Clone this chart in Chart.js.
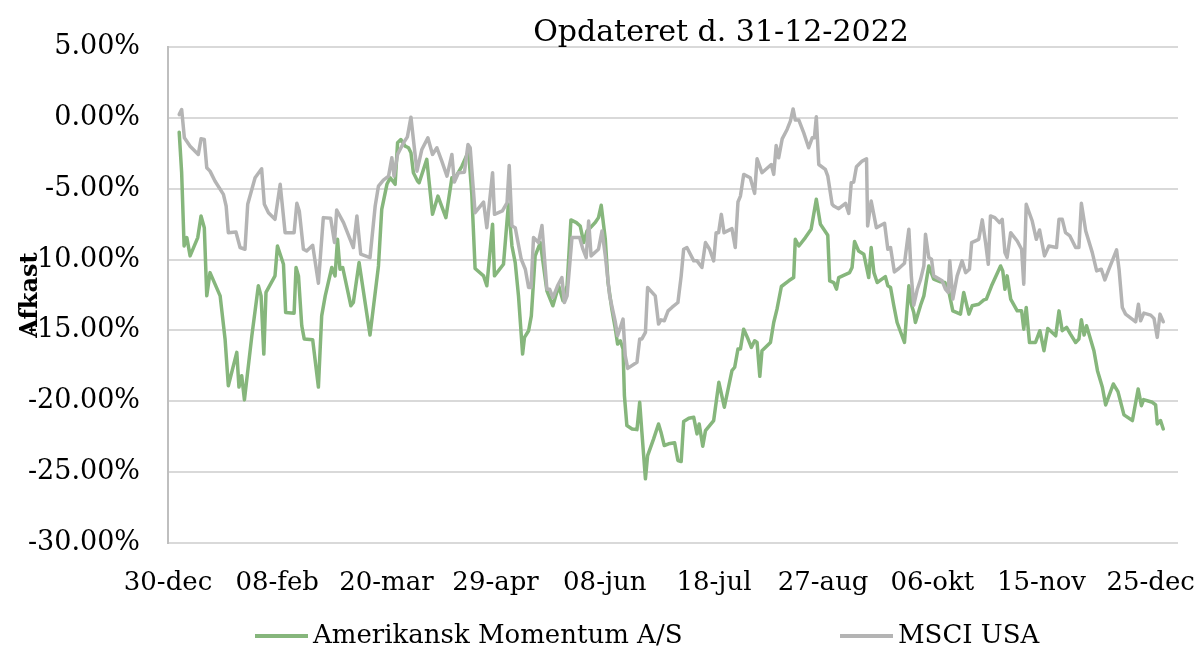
<!DOCTYPE html>
<html>
<head>
<meta charset="utf-8">
<script src="https://cdn.jsdelivr.net/npm/chart.js@4/dist/chart.umd.min.js"></script>
<style>
  html, body { margin: 0; padding: 0; background: #fff; }
  #wrap { width: 1198px; height: 649px; }
</style>
</head>
<body>
<div id="wrap"><canvas id="chart" width="1198" height="649"></canvas></div>
<script>
// days counted from 30-dec-2021
const tickDays = [0, 40, 80, 120, 160, 200, 240, 280, 320, 360]
const tickLabels = ['30-dec', '08-feb', '20-mar', '29-apr', '08-jun', '18-jul', '27-aug', '06-okt', '15-nov', '25-dec']

const momentumDays = [
  4.1, 5.0, 5.9, 6.9, 8.1, 10.9, 12.1, 13.3, 14.2, 15.4, 19.1, 20.9, 22.1, 25.2, 26.0, 27.0, 28.0, 30.7, 33.1, 34.1,
  35.1, 35.9, 39.2, 40.1, 42.3, 43.1, 46.2, 46.9, 47.8, 49.0, 49.9, 53.0, 55.1, 56.3, 57.6, 60.0, 61.2, 62.1, 63.0, 64.0,
  67.0, 67.9, 70.0, 74.0, 77.1, 78.3, 80.2, 81.4, 83.2, 84.1, 85.3, 86.9, 88.1, 89.0, 89.9, 91.4, 92.0, 94.8, 96.9, 98.9,
  101.8, 104.0, 105.2, 107.7, 110.1, 111.3, 112.5, 115.6, 116.8, 118.9, 119.6, 122.9, 124.7, 126.0, 127.2, 128.4, 129.9, 130.6, 132.1, 133.1,
  134.5, 136.4, 138.8, 141.0, 143.1, 144.7, 146.2, 147.6, 149.6, 151.0, 152.3, 153.5, 154.7, 156.5, 157.7, 158.7, 160.2, 161.2, 162.6, 163.9,
  164.7, 165.7, 166.7, 167.2, 168.1, 170.0, 171.8, 172.8, 173.6, 174.9, 175.7, 177.9, 179.7, 180.6, 181.8, 183.4, 185.6, 186.8, 188.0, 188.9,
  190.8, 192.6, 193.8, 194.6, 195.9, 196.9, 199.9, 201.8, 203.8, 206.6, 207.6, 208.8, 209.7, 210.9, 212.5, 213.7, 214.9, 215.8, 216.8, 217.6,
  220.7, 221.9, 223.1, 224.7, 227.4, 229.2, 229.8, 231.1, 233.5, 235.6, 237.5, 239.0, 241.7, 242.4, 243.9, 244.9, 245.7, 249.7, 250.6, 251.5,
  253.0, 254.9, 256.7, 257.6, 258.6, 259.8, 262.8, 263.7, 264.7, 265.9, 267.1, 269.8, 271.4, 272.3, 273.2, 273.8, 275.7, 276.9, 278.7, 280.5,
  283.0, 284.6, 286.0, 287.5, 290.3, 291.5, 293.4, 294.6, 297.0, 298.9, 299.8, 301.7, 305.0, 305.8, 306.6, 307.4, 308.7, 311.1, 312.7, 313.5,
  314.4, 315.6, 317.8, 319.4, 320.9, 322.3, 325.2, 326.4, 327.6, 329.2, 330.6, 332.5, 333.7, 334.6, 335.6, 336.5, 339.2, 340.5, 342.3, 343.5,
  346.3, 348.0, 350.2, 353.3, 355.4, 356.6, 357.4, 360.6, 361.8, 362.4, 363.6, 364.6
]
const momentumValues = [
  -1.01, -3.87, -9.04, -8.45, -9.74, -8.45, -6.92, -7.75, -12.56, -10.92, -12.56, -15.6, -18.9, -16.55, -19.0, -18.2, -19.9, -15.4, -11.85, -12.56,
  -16.67, -12.32, -11.15, -9.04, -10.33, -13.73, -13.78, -10.56, -11.15, -14.67, -15.6, -15.66, -19.0, -13.97, -12.56, -10.56, -11.15, -8.57, -10.68, -10.56,
  -13.26, -13.03, -10.21, -15.33, -10.45, -6.46, -4.69, -4.23, -4.69, -1.76, -1.53, -2.0, -2.11, -2.46, -3.87, -4.46, -4.58, -2.93, -6.81, -5.52,
  -7.04, -4.23, -4.23, -3.4, -2.35, -5.4, -10.63, -11.15, -11.85, -7.51, -11.15, -10.33, -6.1, -9.04, -10.21, -12.56, -16.67, -15.49, -15.02, -13.97,
  -9.74, -8.8, -12.2, -13.26, -11.85, -12.91, -11.85, -7.2, -7.39, -7.63, -8.8, -7.98, -7.75, -7.39, -7.04, -6.17, -8.57, -11.62, -13.5, -14.91,
  -15.96, -15.73, -16.31, -19.6, -21.71, -21.95, -22.0, -20.07, -22.18, -25.47, -23.83, -22.65, -21.6, -22.18, -23.12, -23.0, -22.93, -24.18, -24.25, -21.43,
  -21.2, -21.13, -22.3, -21.6, -23.17, -22.07, -21.36, -18.66, -20.42, -17.84, -17.6, -16.31, -16.31, -14.91, -15.61, -16.2, -15.73, -15.85, -18.24, -16.43,
  -15.85, -14.44, -13.5, -11.9, -11.5, -11.27, -8.57, -9.04, -8.45, -7.86, -5.75, -7.51, -8.29, -11.5, -11.62, -12.09, -11.27, -10.92, -10.56, -8.73,
  -9.39, -9.62, -11.27, -9.15, -10.92, -11.62, -11.2, -11.85, -11.97, -13.26, -14.44, -15.85, -11.85, -13.15, -13.73, -14.44, -13.22, -12.56, -10.45, -11.38,
  -11.57, -11.62, -12.21, -13.62, -13.85, -12.32, -13.85, -13.26, -13.15, -12.84, -12.79, -11.85, -10.45, -10.8, -12.09, -11.15, -12.79, -13.62, -13.62, -14.91,
  -13.38, -15.85, -15.85, -15.02, -16.43, -14.86, -15.38, -13.62, -15.02, -14.79, -15.26, -15.85, -15.61, -14.25, -15.33, -14.67, -16.43, -17.84, -19.01, -20.26,
  -18.78, -19.32, -20.96, -21.36, -19.13, -20.31, -19.88, -20.07, -20.26, -21.6, -21.36, -21.95
]

const msciDays = [
  4.1, 5.0, 6.0, 8.1, 11.1, 12.1, 13.3, 14.2, 15.4, 17.2, 20.3, 21.3, 22.1, 24.9, 26.4, 28.2, 29.2, 31.9, 34.3, 35.3,
  36.8, 39.2, 41.1, 42.9, 46.2, 47.2, 48.1, 49.6, 50.8, 53.0, 55.1, 56.9, 59.6, 61.0, 61.8, 64.3, 67.9, 69.2, 70.6, 74.0,
  75.9, 77.1, 78.9, 80.8, 82.0, 82.8, 84.1, 86.3, 87.7, 89.0, 89.9, 91.2, 93.0, 95.2, 96.9, 98.5, 100.3, 102.2, 104.0, 104.9,
  106.4, 108.6, 109.9, 110.7, 112.5, 115.6, 116.8, 118.9, 119.6, 122.5, 124.2, 125.0, 126.0, 127.2, 129.4, 130.9, 132.1, 133.0, 133.9, 135.7,
  137.0, 138.8, 139.8, 141.0, 142.7, 144.3, 145.2, 146.2, 148.0, 150.8, 152.0, 153.2, 154.1, 155.0, 157.7, 159.0, 160.2, 161.8, 163.9, 164.7,
  165.9, 166.7, 167.5, 168.4, 171.8, 172.8, 173.6, 174.9, 175.7, 178.5, 179.7, 180.6, 181.8, 183.2, 184.6, 186.8, 188.0, 188.9, 190.1, 192.6,
  193.8, 195.6, 196.9, 198.4, 199.9, 200.8, 201.7, 202.7, 203.7, 206.6, 207.8, 208.8, 209.7, 210.9, 213.3, 214.9, 215.8, 217.6, 221.0, 221.9,
  222.8, 223.7, 225.0, 226.8, 228.0, 229.0, 229.8, 231.1, 232.9, 234.7, 236.0, 236.8, 237.5, 238.4, 240.8, 241.7, 243.3, 243.9, 245.7, 248.2,
  249.4, 250.3, 251.2, 252.2, 254.3, 255.9, 256.3, 257.6, 259.5, 262.5, 263.7, 264.7, 266.1, 267.7, 269.8, 271.4, 272.3, 273.2, 274.5, 275.7,
  276.9, 277.5, 278.7, 279.7, 280.5, 283.6, 284.8, 285.8, 286.4, 287.5, 289.1, 290.9, 292.2, 293.6, 294.4, 297.0, 298.3, 299.5, 300.5, 301.3,
  302.9, 304.6, 305.6, 306.6, 307.4, 308.7, 311.1, 312.7, 313.5, 314.4, 316.6, 318.1, 319.3, 321.1, 322.7, 325.5, 326.4, 327.6, 328.8, 330.4,
  332.5, 333.7, 334.6, 336.2, 338.6, 340.2, 341.9, 343.2, 344.7, 347.5, 348.4, 349.6, 350.8, 354.5, 355.5, 356.3, 357.5, 360.0, 361.2, 362.4,
  363.4, 364.6
]
const msciValues = [
  0.23, 0.59, -1.41, -2.0, -2.58, -1.48, -1.53, -3.52, -3.76, -4.46, -5.4, -6.22, -8.1, -8.05, -9.15, -9.27, -6.1, -4.23, -3.59, -6.1,
  -6.69, -7.16, -4.69, -8.1, -8.1, -6.03, -6.57, -9.27, -9.39, -8.99, -11.67, -7.04, -7.09, -8.8, -6.5, -7.39, -9.15, -6.92, -9.62, -9.86,
  -6.22, -4.81, -4.39, -4.11, -2.82, -4.11, -2.58, -1.76, -1.34, 0.05, -1.53, -3.76, -2.23, -1.41, -2.58, -2.11, -3.05, -4.11, -2.58, -4.53,
  -3.87, -3.83, -1.88, -2.11, -6.69, -5.94, -7.75, -3.87, -6.81, -6.57, -5.99, -3.36, -7.63, -7.75, -9.98, -10.68, -11.97, -11.97, -8.45, -8.8,
  -7.6, -12.09, -12.09, -12.68, -11.85, -11.27, -13.03, -12.56, -8.45, -8.45, -9.27, -9.86, -7.28, -9.74, -9.27, -7.98, -9.74, -12.56, -14.44, -15.38,
  -14.67, -14.2, -16.78, -17.68, -17.25, -15.6, -15.6, -15.14, -11.97, -12.56, -14.55, -14.25, -14.32, -13.62, -13.38, -13.03, -11.15, -9.27, -9.15, -10.09,
  -10.09, -10.56, -8.8, -9.27, -10.09, -8.1, -8.1, -6.81, -8.1, -7.82, -9.15, -5.94, -5.52, -3.99, -4.23, -5.33, -2.89, -3.87, -3.29, -3.99,
  -1.95, -2.82, -1.48, -0.82, -0.23, 0.63, -0.16, -0.16, -1.06, -2.11, -1.41, -1.41, 0.07, -3.29, -3.64, -4.11, -6.1, -6.22, -6.41, -6.03,
  -6.74, -4.58, -4.53, -3.45, -3.05, -2.89, -7.63, -5.87, -7.75, -7.44, -9.27, -9.15, -10.87, -10.63, -10.26, -7.86, -11.15, -13.22, -12.09, -11.4,
  -10.45, -8.22, -9.86, -9.98, -11.15, -11.5, -12.09, -12.32, -10.09, -12.79, -11.15, -10.09, -10.92, -10.68, -8.8, -8.57, -7.2, -8.8, -10.33, -6.92,
  -7.04, -7.39, -7.16, -9.51, -9.86, -8.1, -8.69, -9.27, -11.74, -6.1, -7.28, -8.57, -7.91, -9.74, -9.04, -9.15, -7.16, -7.16, -8.1, -8.33,
  -9.15, -9.15, -6.03, -7.98, -9.51, -10.8, -10.68, -11.43, -10.68, -9.32, -10.68, -13.38, -13.85, -14.39, -13.15, -14.32, -13.78, -13.92, -14.15, -15.49,
  -13.85, -14.39
]

const SERIES_NAMES = ['Amerikansk Momentum A/S', 'MSCI USA']
const GREEN = '#86b67c'
const GRAY = '#b4b4b4'
const FONT = "'DejaVu Serif', serif"

const toPoints = (xs, ys) => xs.map((x, i) => ({ x, y: ys[i] }))

const textPlugin = {
  id: 'texts',
  afterDraw(chart) {
    const { ctx } = chart
    ctx.save()
    ctx.fillStyle = '#000'

    // title
    ctx.font = `30px ${FONT}`
    ctx.textAlign = 'center'
    ctx.textBaseline = 'middle'
    ctx.fillText('Opdateret d. 31-12-2022', 721, 33)

    // y axis title, drawn over the tick labels like the original
    ctx.save()
    ctx.translate(31, 295)
    ctx.rotate(-Math.PI / 2)
    ctx.font = `bold 24px ${FONT}`
    ctx.fillText('Afkast', 0, 0)
    ctx.restore()

    // legend
    const legendX = [255, 840]
    const legendY = 636
    ctx.font = `26px ${FONT}`
    ctx.textAlign = 'left'
    chart.data.datasets.forEach((ds, i) => {
      ctx.strokeStyle = ds.borderColor
      ctx.lineWidth = 4
      ctx.beginPath()
      ctx.moveTo(legendX[i], legendY)
      ctx.lineTo(legendX[i] + 53, legendY)
      ctx.stroke()
      ctx.fillText(ds.label, legendX[i] + 58, legendY)
    })
    ctx.restore()
  },
}

new Chart(document.getElementById('chart'), {
  type: 'line',
  data: {
    datasets: [
      {
        label: SERIES_NAMES[0],
        data: toPoints(momentumDays, momentumValues),
        borderColor: GREEN,
        borderWidth: 3.5,
        order: 1,
      },
      {
        label: SERIES_NAMES[1],
        data: toPoints(msciDays, msciValues),
        borderColor: GRAY,
        borderWidth: 3.5,
        order: 0,
      },
    ],
  },
  options: {
    responsive: false,
    animation: false,
    events: [],
    layout: { padding: { top: 47, right: 20, left: 0, bottom: 0 } },
    elements: {
      point: { radius: 0 },
      line: { tension: 0, borderJoinStyle: 'round', borderCapStyle: 'round' },
    },
    plugins: {
      legend: { display: false },
      tooltip: { enabled: false },
      title: { display: false },
    },
    scales: {
      x: {
        type: 'linear',
        min: 0,
        max: 370,
        afterBuildTicks: (scale) => {
          scale.ticks = tickDays.map((value) => ({ value }))
        },
        afterFit: (scale) => {
          scale.height = 106
          scale.paddingLeft = 0
          scale.paddingRight = 0
        },
        grid: { display: false },
        border: { display: false },
        ticks: {
          autoSkip: false,
          maxRotation: 0,
          padding: 17,
          color: '#000',
          font: { family: FONT, size: 26 },
          callback: (value) => tickLabels[tickDays.indexOf(value)] ?? '',
        },
      },
      y: {
        min: -30,
        max: 5,
        afterFit: (scale) => {
          scale.width = 168
          scale.paddingTop = 0
          scale.paddingBottom = 0
        },
        grid: { color: '#d9d9d9', lineWidth: 2, drawTicks: false },
        border: { display: true, color: '#bfbfbf', width: 2 },
        ticks: {
          stepSize: 5,
          padding: 28,
          color: '#000',
          font: { family: FONT, size: 27 },
          callback: (value) => value.toFixed(2) + '%',
        },
      },
    },
  },
  plugins: [textPlugin],
})
</script>
</body>
</html>
